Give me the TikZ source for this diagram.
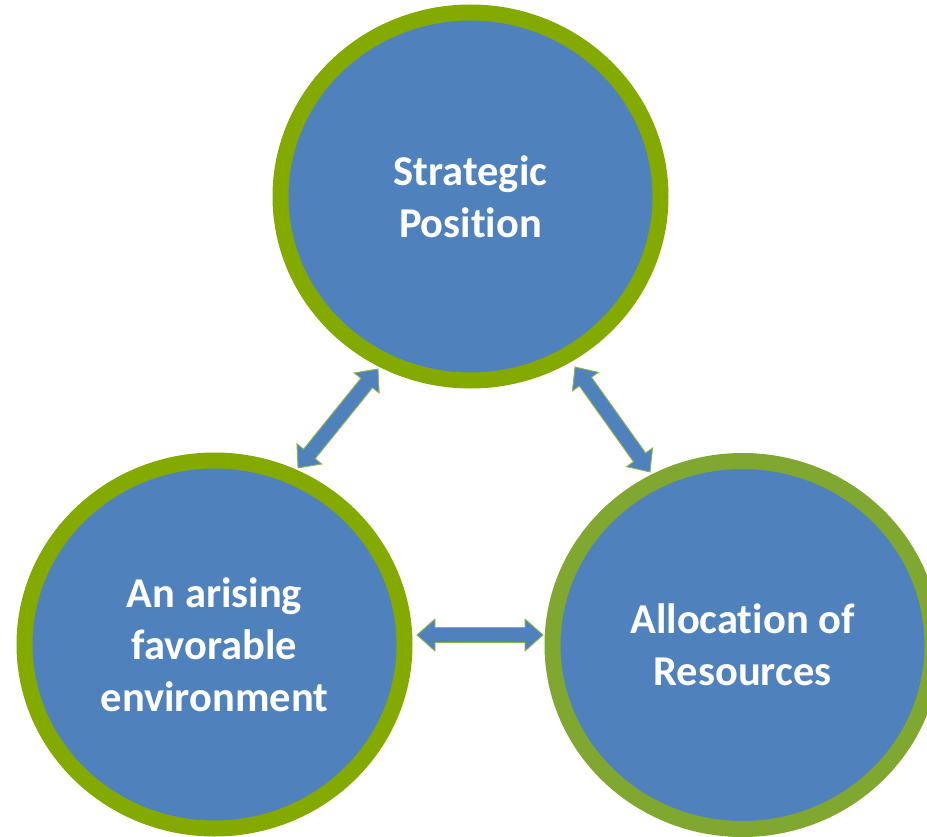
\documentclass[tikz,border=0pt]{standalone}
\usepackage{fontspec}
\setmainfont[RawFeature=-liga]{Carlito}
\usetikzlibrary{calc,shapes.geometric}
\definecolor{fillblue}{RGB}{79,129,189}
\definecolor{ringgreen}{RGB}{132,170,0}
\definecolor{ringolive}{RGB}{128,168,48}
\definecolor{arrowedge}{RGB}{145,182,70}
\tikzset{
  bubble/.style={ellipse, minimum width=380pt, minimum height=368pt, fill=fillblue,
    line width=16pt, text=white, font=\bfseries\fontsize{42.5}{52}\selectfont,
    align=center, inner sep=0pt},
  blockarrow/.style={fill=fillblue, draw=arrowedge, line width=0.9pt, line join=miter}
}
\newcommand\mydblarrow[2]{%
  \path[blockarrow] let \p1=(#1), \p2=(#2),
    \n1={atan2(\y2-\y1,\x2-\x1)}, \n2={veclen(\x2-\x1,\y2-\y1)} in
    {[shift={(\p1)}, rotate=\n1]
      (0pt,0pt) -- (18pt,16pt) -- (18pt,7.5pt) -- ({(\n2-18)*1pt},7.5pt)
      -- ({(\n2-18)*1pt},16pt) -- ({\n2*1pt},0pt) -- ({(\n2-18)*1pt},-16pt)
      -- ({(\n2-18)*1pt},-7.5pt) -- (18pt,-7.5pt) -- (18pt,-16pt) -- cycle};
}
\begin{document}
\begin{tikzpicture}[x=1pt,y=-1pt]
  \useasboundingbox (0,0) rectangle (927,837);
  \clip (0,0) rectangle (927,837);
  \node[bubble, draw=ringgreen] (top) at (470.5,196.5) {Strategic\\Position};
  \node[bubble, draw=ringgreen] (left) at (214.5,644.5) {An arising\\favorable\\environment};
  \node[bubble, draw=ringolive] (right) at (742.5,645) {Allocation of\\Resources};
  \coordinate (t1) at (378,369);
  \coordinate (t2) at (298,468);
  \coordinate (t3) at (575,367);
  \coordinate (t4) at (650,472);
  \coordinate (t5) at (417,635);
  \coordinate (t6) at (543,635);
  \mydblarrow{t1}{t2}
  \mydblarrow{t3}{t4}
  \mydblarrow{t5}{t6}
\end{tikzpicture}
\end{document}
